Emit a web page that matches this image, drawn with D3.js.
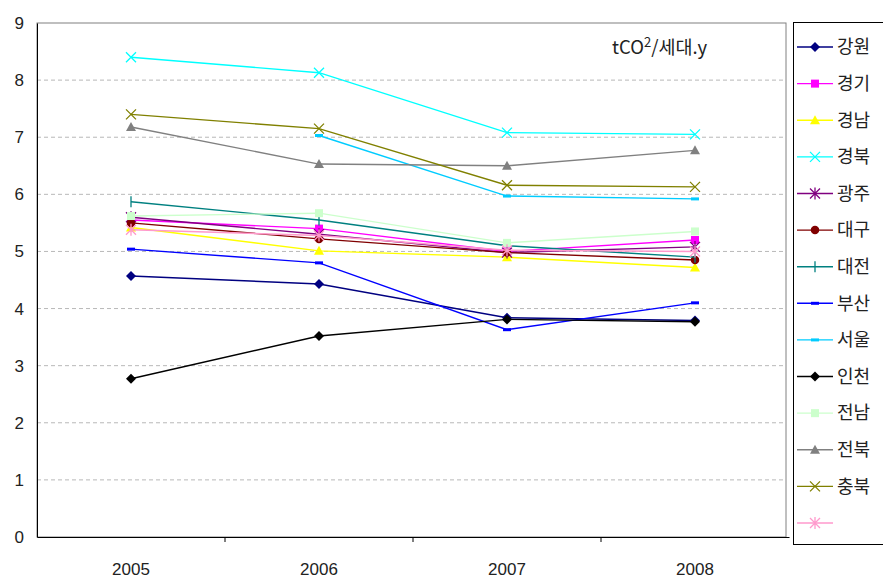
<!DOCTYPE html>
<html>
<head>
<meta charset="utf-8">
<script src="https://cdn.jsdelivr.net/npm/d3@7"></script>
<style>
  html, body { margin: 0; padding: 0; background: #fff; }
  svg { display: block; font-family: "Noto Sans CJK KR", "Noto Sans", sans-serif; }
</style>
</head>
<body>
<svg id="chart" width="883" height="582"></svg>
<script>
// Household CO2 emissions per region, tCO2 per household per year
const years = ["2005", "2006", "2007", "2008"];
const yTicks = [0, 1, 2, 3, 4, 5, 6, 7, 8, 9];
const unitLabel = ["tCO", "2", "/세대.y"];

const regionNames = ["강원", "경기", "경남", "경북", "광주", "대구", "대전", "부산", "서울", "인천", "전남", "전북", "충북", ""];

const gangwon   = [4.57, 4.43, 3.84, 3.79];
const gyeonggi  = [5.55, 5.40, 5.00, 5.20];
const gyeongnam = [5.42, 5.01, 4.90, 4.72];
const gyeongbuk = [8.40, 8.13, 7.08, 7.05];
const gwangju   = [5.60, 5.30, 4.98, 5.08];
const daegu     = [5.50, 5.22, 4.98, 4.85];
const daejeon   = [5.87, 5.55, 5.10, 4.90];
const busan     = [5.04, 4.80, 3.63, 4.10];
const seoul     = [null, 7.03, 5.97, 5.92];
const incheon   = [2.77, 3.52, 3.81, 3.77];
const jeonnam   = [5.62, 5.67, 5.15, 5.35];
const jeonbuk   = [7.18, 6.53, 6.50, 6.77];
const chungbuk  = [7.40, 7.15, 6.16, 6.13];
const unnamed   = [5.38, 5.28, 5.02, 5.00];

const seriesValues = [gangwon, gyeonggi, gyeongnam, gyeongbuk, gwangju, daegu, daejeon,
                      busan, seoul, incheon, jeonnam, jeonbuk, chungbuk, unnamed];

const colors  = ["#000080", "#FF00FF", "#FFFF00", "#00FFFF", "#800080", "#800000", "#008080",
                 "#0000FF", "#00CCFF", "#000000", "#CCFFCC", "#808080", "#808000", "#FF99CC"];
const markers = ["diamond", "square", "triangle", "x", "star", "circle", "plus",
                 "dash", "dash", "diamond", "square", "triangle", "x", "star"];

const svg = d3.select("#chart");
const plot = { left: 37, right: 786, top: 23, bottom: 537 };

const x = d3.scaleBand().domain(years).range([plot.left, plot.right + 3]);
const y = d3.scaleLinear().domain([0, 9]).range([plot.bottom, plot.top]);
const cx = d => x(d) + x.bandwidth() / 2;

// gridlines
svg.append("g")
  .selectAll("line")
  .data(yTicks.filter(t => t > 0 && t < 9))
  .join("line")
  .attr("x1", plot.left).attr("x2", plot.right)
  .attr("y1", d => y(d)).attr("y2", d => y(d))
  .attr("stroke", "#b8b8b8").attr("stroke-width", 1)
  .attr("stroke-dasharray", "4,3");

// plot frame
svg.append("rect")
  .attr("x", plot.left).attr("y", plot.top)
  .attr("width", plot.right - plot.left).attr("height", plot.bottom - plot.top)
  .attr("fill", "none").attr("stroke", "#808080").attr("stroke-width", 1);

// y axis
const yAxis = svg.append("g")
  .attr("transform", `translate(${plot.left},0)`)
  .call(d3.axisLeft(y).tickValues(yTicks).tickSize(0).tickPadding(13));
yAxis.select(".domain").attr("stroke", "#000");
yAxis.selectAll("text").attr("font-size", 17).attr("fill", "#222");

// x axis
const xAxis = svg.append("g")
  .attr("transform", `translate(0,${plot.bottom})`)
  .call(d3.axisBottom(x).tickSize(0).tickPadding(26));
xAxis.select(".domain").attr("stroke", "#000");
xAxis.selectAll("text").attr("font-size", 17).attr("fill", "#222");
xAxis.selectAll(".boundary")
  .data(years.slice(1))
  .join("line")
  .attr("class", "boundary")
  .attr("x1", d => x(d)).attr("x2", d => x(d))
  .attr("y1", 0).attr("y2", 5)
  .attr("stroke", "#000");

// marker drawing
function drawMarker(g, type, color, size) {
  const s = size;
  switch (type) {
    case "diamond":
      g.append("path").attr("d", `M0,${-s}L${s},0L0,${s}L${-s},0Z`).attr("fill", color); break;
    case "square":
      g.append("rect").attr("x", -s * 0.8).attr("y", -s * 0.8).attr("width", s * 1.6).attr("height", s * 1.6).attr("fill", color); break;
    case "triangle":
      g.append("path").attr("d", `M0,${-s}L${s},${s * 0.8}L${-s},${s * 0.8}Z`).attr("fill", color); break;
    case "circle":
      g.append("circle").attr("r", s * 0.85).attr("fill", color); break;
    case "x":
      g.append("path").attr("d", `M${-s},${-s}L${s},${s}M${-s},${s}L${s},${-s}`)
        .attr("stroke", color).attr("stroke-width", 1.3).attr("fill", "none"); break;
    case "star":
      g.append("path").attr("d", `M${-s},${-s}L${s},${s}M${-s},${s}L${s},${-s}M0,${-s * 1.2}L0,${s * 1.2}`)
        .attr("stroke", color).attr("stroke-width", 1.3).attr("fill", "none"); break;
    case "plus":
      g.append("path").attr("d", `M0,${-s * 1.1}L0,${s * 1.1}`)
        .attr("stroke", color).attr("stroke-width", 1.3).attr("fill", "none"); break;
    case "dash":
      g.append("rect").attr("x", -s * 0.8).attr("y", -1.5).attr("width", s * 1.6).attr("height", 3).attr("fill", color); break;
  }
}

// series lines and markers
const line = d3.line()
  .defined(d => d.v !== null)
  .x(d => cx(d.year))
  .y(d => y(d.v));

const series = seriesValues.map((vals, i) => ({
  name: regionNames[i],
  color: colors[i],
  marker: markers[i],
  points: years.map((yr, j) => ({ year: yr, v: vals[j] }))
}));

const sg = svg.append("g").selectAll("g").data(series).join("g");
sg.append("path")
  .attr("d", d => line(d.points))
  .attr("fill", "none")
  .attr("stroke", d => d.color)
  .attr("stroke-width", 1.4);
sg.each(function (d) {
  const g = d3.select(this);
  d.points.filter(p => p.v !== null).forEach(p => {
    const m = g.append("g").attr("transform", `translate(${cx(p.year)},${y(p.v)})`);
    drawMarker(m, d.marker, d.color, 5);
  });
});

// unit label
const unit = svg.append("text")
  .attr("x", 612).attr("y", 54)
  .attr("font-size", 18.5).attr("fill", "#222");
unit.append("tspan").text(unitLabel[0]);
unit.append("tspan").attr("dy", -7).attr("font-size", 13).text(unitLabel[1]);
unit.append("tspan").attr("dy", 7).text(unitLabel[2]);

// legend
const legend = svg.append("g");
legend.append("rect")
  .attr("x", 793.5).attr("y", 22.5).attr("width", 100).attr("height", 522)
  .attr("fill", "#fff").attr("stroke", "#000").attr("stroke-width", 1);
const ly = d3.scalePoint().domain(d3.range(series.length)).range([47, 523]);
const li = legend.selectAll("g.item").data(series).join("g")
  .attr("class", "item")
  .attr("transform", (d, i) => `translate(0,${ly(i)})`);
li.append("line")
  .attr("x1", 797).attr("x2", 833).attr("y1", 0).attr("y2", 0)
  .attr("stroke", d => d.color).attr("stroke-width", 1.4);
li.each(function (d) {
  const m = d3.select(this).append("g").attr("transform", "translate(815,0)");
  drawMarker(m, d.marker, d.color, 5);
});
li.append("text")
  .attr("x", 837).attr("y", 0).attr("dy", "0.35em")
  .attr("font-size", 18).attr("fill", "#222")
  .text(d => d.name);
</script>
</body>
</html>
